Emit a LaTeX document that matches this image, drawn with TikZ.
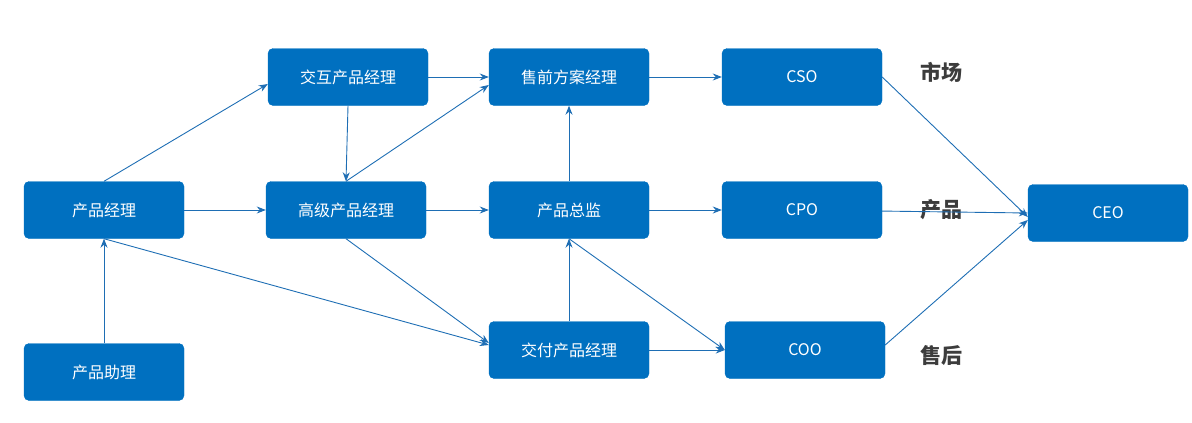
\documentclass[tikz,border=0pt]{standalone}
\usepackage{fontspec}
\setmainfont{Noto Sans CJK SC}
\usetikzlibrary{arrows.meta}
\definecolor{bx}{RGB}{0,112,192}
\definecolor{ln}{RGB}{30,110,180}
\begin{document}
\begin{tikzpicture}[x=1pt,y=-1pt,
 box/.style={draw=bx,fill=bx,rounded corners=5pt,minimum width=160pt,minimum height=57pt,text=white,font=\fontsize{16}{18}\selectfont,inner sep=0pt},
 lab/.style={font=\fontsize{21}{24}\selectfont\bfseries,text={rgb,255:red,60;green,60;blue,60}},
 ar/.style={draw=ln,line width=0.9pt,-{Stealth[length=9pt,width=7pt]}}]
\useasboundingbox (0,0) rectangle (1192,423);
\node[box] (jh) at (348,77) {交互产品经理};
\node[box] (sq) at (569,77) {售前方案经理};
\node[box] (cso) at (802,77) {CSO};
\node[box] (pm) at (104,210) {产品经理};
\node[box] (gj) at (346,210) {高级产品经理};
\node[box] (zj) at (569,210) {产品总监};
\node[box] (cpo) at (802,210) {CPO};
\node[box] (ceo) at (1108,213) {CEO};
\node[box] (zl) at (104,372) {产品助理};
\node[box] (jf) at (569,350) {交付产品经理};
\node[box] (coo) at (805,350) {COO};
\node[lab] (t1) at (941,72) {市场};
\node[lab] (t2) at (941,210) {产品};
\node[lab] (t3) at (941,355) {售后};
\draw[ar] (pm.north) -- (jh.west |- 0,84);
\draw[ar] (pm) -- (gj);
\draw[ar] (zl) -- (pm);
\draw[ar] (pm.south) -- (jf.west |- 0,345);
\draw[ar] (jh) -- (sq);
\draw[ar] (jh.south) -- (gj.north);
\draw[ar] (gj.north) -- (sq.west |- 0,85);
\draw[ar] (gj) -- (zj);
\draw[ar] (gj.south) -- (jf.west |- 0,343);
\draw[ar] (zj) -- (sq);
\draw[ar] (jf) -- (zj);
\draw[ar] (zj.south) -- (coo.west |- 0,350);
\draw[ar] (jf) -- (coo);
\draw[ar] (sq) -- (cso);
\draw[ar] (zj) -- (cpo);
\draw[ar] (cso.east) -- (ceo.west |- 0,217);
\draw[ar] (cpo) -- (ceo.west |- 0,213);
\draw[ar] (coo.east |- 0,345) -- (ceo.west |- 0,220);
\end{tikzpicture}
\end{document}
